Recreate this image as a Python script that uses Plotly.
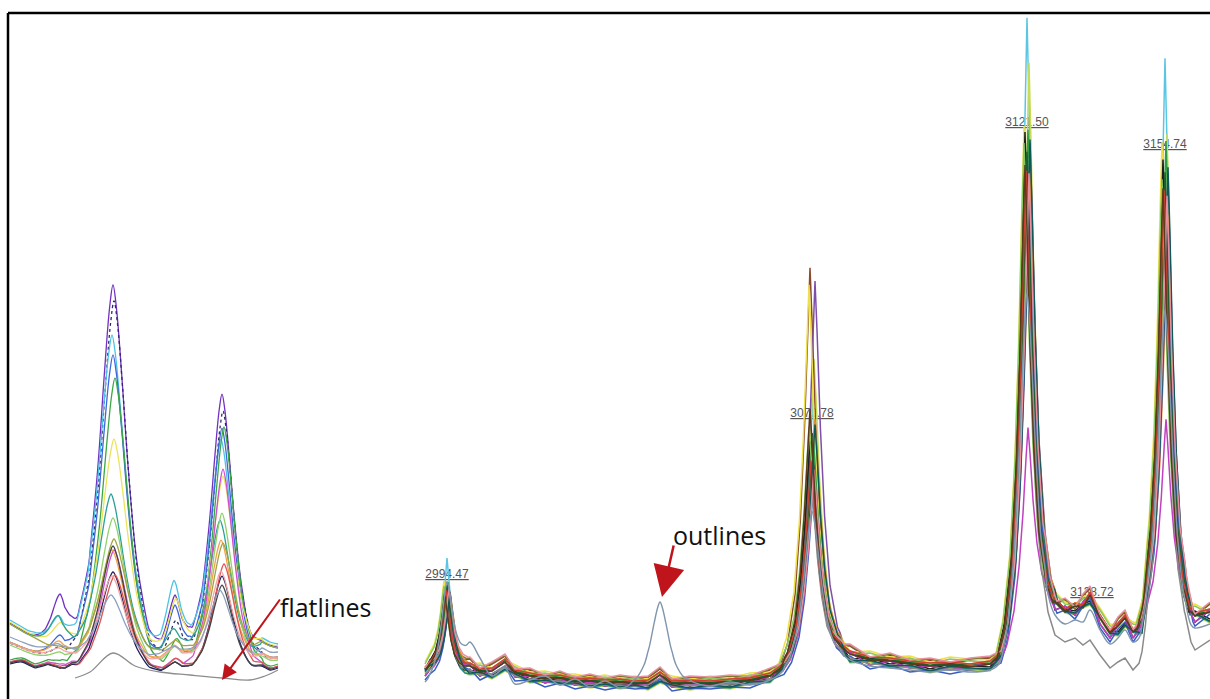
import numpy as np
import plotly.graph_objects as go

# ---------------- shared peak templates (normalised) ----------------
SHAPE_OFFSETS = [-1, -0.75, -0.5, -0.32, -0.18, -0.07, 0, 0.07, 0.18, 0.32, 0.5, 0.75, 1]
SHAPE_SHARP = [0, 0.05, 0.17, 0.36, 0.6, 0.86, 1, 0.86, 0.6, 0.36, 0.17, 0.05, 0]
SHAPE_BROAD = [0, 0.07, 0.25, 0.5, 0.76, 0.94, 1, 0.94, 0.76, 0.5, 0.25, 0.07, 0]

# ---------------- right panel: full spectra overlay ----------------
R_KNOT_X = [425, 430, 470, 480, 492, 505, 515, 530, 545, 560,
            575, 590, 605, 620, 635, 648, 660, 672, 690, 710,
            730, 750, 770, 785, 840, 850, 870, 890, 910, 930,
            950, 970, 990, 1005, 1045, 1055, 1065, 1075, 1083, 1090,
            1100, 1110, 1118, 1125, 1133, 1142, 1148, 1185, 1195, 1210]
R_BASE_A = [18, 22, 22, 16, 17, 26, 15, 12, 9, 10,
            6, 7, 5, 6, 4, 5, 13, 4, 5, 4,
            6, 7, 12, 22, 42, 34, 28, 27, 24, 22,
            23, 21, 24, 36, 82, 86, 76, 82, 80, 93,
            70, 55, 62, 70, 56, 62, 78, 82, 72, 76]
R_BASE_B = [20, 26, 18, 19, 14, 22, 17, 10, 11, 8,
            8, 5, 7, 4, 6, 3, 10, 6, 3, 6,
            4, 9, 10, 25, 46, 30, 31, 25, 26, 20,
            25, 23, 22, 40, 76, 90, 80, 78, 85, 88,
            74, 58, 57, 66, 60, 58, 82, 76, 78, 70]
R_BASE_C = [14, 20, 25, 14, 20, 28, 13, 14, 7, 11,
            5, 8, 4, 7, 5, 6, 15, 3, 6, 5,
            7, 6, 14, 20, 38, 38, 25, 29, 22, 24,
            20, 24, 26, 33, 86, 80, 84, 75, 88, 96,
            66, 52, 65, 72, 52, 65, 74, 88, 68, 80]
R_BASE_LOW = [16, 20, 20, 15, 16, 24, 14, 11, 9, 9,
              6, 6, 5, 5, 4, 5, 12, 4, 5, 4,
              6, 6, 11, 20, 40, 32, 26, 25, 22, 20,
              21, 20, 22, 32, 60, 55, 48, 52, 45, 50,
              35, 22, 28, 32, 20, 30, 60, 60, 40, 50]
R_BASES = [R_BASE_A, R_BASE_B, R_BASE_C, R_BASE_LOW]

R_PEAK_POS = [447, 812, 1027, 1165]
R_PEAK_WIDTH = [19, 30, 28, 26]
R_PEAK_LABELS = ["2994.47", "3070.78", "3121.50", "3154.74", "3138.72"]
R_LABEL_X = [447, 812, 1027, 1165, 1092]
R_LABEL_Y = [115, 276, 567, 545, 97]

R_COLORS = ['#5bc6e3', '#c6dc55', '#8b4a2b', '#7d4fa8', '#efe04a', '#20205a', '#2e9e40',
            '#1f8a8a', '#7a7a2a', '#e08a30', '#202020', '#3a5ec0', '#1e5e2e', '#88c860',
            '#c040c0', '#8a8a8a', '#d04030', '#105858', '#e890a0', '#5a3a1a']
R_H_2994 = [108, 76, 72, 70, 78, 76, 82, 78, 74, 72, 78, 68, 80, 75, 58, 63, 73, 77, 71, 70]
R_H_3070 = [258, 298, 388, 373, 363, 228, 218, 208, 198, 233, 213, 188, 203, 223, 178, 168, 193, 230, 183, 248]
R_H_3121 = [609, 569, 484, 479, 499, 469, 494, 459, 439, 449, 499, 419, 474, 484, 199, 389, 454, 489, 444, 464]
R_H_3154 = [550, 480, 440, 420, 460, 430, 465, 410, 400, 390, 450, 380, 435, 425, 190, 360, 415, 445, 405, 420]
R_VARIANT = [0, 1, 2, 0, 1, 2, 0, 1, 2, 0, 1, 2, 0, 1, 2, 3, 0, 1, 2, 0]
R_OFFSET = [2, -3, 6, 3, 8, 0, 4, -2, 7, 5, 1, -4, 3, 6, 0, 0, 5, -1, 8, 2]
R_SHIFT = [0, 2, -2, 3, -3, 0, 1, -1, 0, 3, -2, 2, 0, -3, 1, 0, -1, 3, 2, -2]

# outlier spectrum ("outlines")
OUT_COLOR = '#7f96ad'
OUT_BASE = [8, 14, 48, 32, 14, 22, 6, 10, 14, 5,
            11, 3, 9, 2, 6, 3, 4, 3, 9, 4,
            8, 5, 10, 20, 38, 30, 24, 22, 20, 18,
            20, 18, 20, 30, 70, 75, 66, 70, 68, 80,
            60, 46, 52, 60, 48, 54, 70, 70, 62, 66]
OUT_PEAK_POS = [447, 660, 812, 1027, 1165]
OUT_PEAK_H = [80, 84, 150, 345, 310]
OUT_PEAK_W = [19, 32, 30, 28, 26]

# ---------------- left panel: zoomed inset ----------------
L_KNOT_X = [10, 22, 35, 48, 60, 72, 80, 150, 160, 175, 190, 196, 252, 262, 270, 278]
L_BASE_A = [45, 40, 35, 32, 30, 28, 26, 24, 28, 32, 28, 24, 26, 34, 30, 30]
L_BASE_B = [62, 55, 48, 40, 36, 32, 30, 30, 34, 40, 34, 30, 32, 44, 40, 38]
L_BASE_C = [30, 32, 26, 28, 22, 24, 20, 20, 22, 26, 22, 20, 22, 28, 24, 26]
L_BASES = [L_BASE_A, L_BASE_B, L_BASE_C]
L_PEAK_POS = [113, 222, 60, 175]
L_PEAK_WIDTH = [48, 40, 30, 26]

L_COLORS = ['#7030c0', '#2b2b6b', '#4cc3e6', '#3f66d8', '#3aa845', '#ece35a', '#2aa198', '#8fd16a',
            '#d04fd0', '#f2a24b', '#20205e', '#e05555', '#f4a6a6', '#a3a340', '#444444', '#8da0c0']
L_H_1 = [370, 362, 317, 307, 292, 215, 162, 147, 122, 112, 102, 97, 87, 117, 127, 62]
L_H_2 = [260, 252, 212, 234, 242, 177, 135, 152, 202, 122, 97, 107, 92, 112, 87, 67]
L_H_S1 = [55, 12, 30, 22, 8, 26, 34, 8, 6, 16, 4, 4, 10, 4, 3, 8]
L_H_S2 = [50, 36, 62, 50, 26, 46, 18, 12, 8, 10, 6, 8, 10, 6, 5, 4]
L_VARIANT = [1, 0, 1, 0, 2, 1, 1, 0, 2, 0, 2, 2, 0, 1, 2, 0]
L_OFFSET = [5, 2, 8, 3, 0, 6, 4, 0, -2, 3, -4, -2, 2, 4, -3, 8]
L_SHIFT = [0, 1, -1, 0, 2, 1, -2, 0, 1, -1, 0, 2, -1, 1, 0, -2]
L_DASH = ['solid', 'dot', 'solid', 'solid', 'solid', 'solid', 'solid', 'solid',
          'solid', 'solid', 'solid', 'solid', 'solid', 'solid', 'solid', 'solid']

FLAT_X = [75, 90, 113, 135, 160, 190, 222, 250, 265, 278]
FLAT_Y = [12, 18, 37, 24, 18, 15, 12, 10, 14, 20]
FLAT_COLOR = '#8c8c8c'


def build(knot_x, knot_y, peaks, shape, offset=0):
    offs = np.array(SHAPE_OFFSETS, dtype=float)
    pts = set(float(v) for v in knot_x)
    for c, h, w in peaks:
        for o in offs:
            pts.add(c + o * w)
    xs = np.array(sorted(p for p in pts if knot_x[0] <= p <= knot_x[-1]))
    ys = np.interp(xs, knot_x, knot_y) + offset
    for c, h, w in peaks:
        ys = ys + h * np.interp(xs, c + offs * w, shape, left=0, right=0)
    return xs, ys


fig = go.Figure()

# peak labels first so spectra draw over them
fig.add_trace(go.Scatter(
    x=R_LABEL_X, y=R_LABEL_Y, mode='text',
    text=['<u>' + t + '</u>' for t in R_PEAK_LABELS],
    textfont=dict(family='Liberation Sans, Arial', size=12, color='#555555'),
    hoverinfo='skip'))

# right panel spectra
for i, col in enumerate(R_COLORS):
    heights = [R_H_2994[i], R_H_3070[i], R_H_3121[i], R_H_3154[i]]
    peaks = [(p + R_SHIFT[i], h, w) for p, h, w in zip(R_PEAK_POS, heights, R_PEAK_WIDTH)]
    xs, ys = build(R_KNOT_X, R_BASES[R_VARIANT[i]], peaks, SHAPE_SHARP, R_OFFSET[i])
    fig.add_trace(go.Scatter(x=xs, y=ys, mode='lines',
                             line=dict(color=col, width=1.5), hoverinfo='skip'))

out_peaks = [(p, h, w) for p, h, w in zip(OUT_PEAK_POS, OUT_PEAK_H, OUT_PEAK_W)]
xs, ys = build(R_KNOT_X, OUT_BASE, out_peaks, SHAPE_BROAD)
fig.add_trace(go.Scatter(x=xs, y=ys, mode='lines', line_shape='spline',
                         line=dict(color=OUT_COLOR, width=1.4), hoverinfo='skip'))

# left panel spectra
fig.add_trace(go.Scatter(x=FLAT_X, y=FLAT_Y, mode='lines', line_shape='spline',
                         line=dict(color=FLAT_COLOR, width=1.3), hoverinfo='skip'))
for i, col in enumerate(L_COLORS):
    heights = [L_H_1[i], L_H_2[i], L_H_S1[i], L_H_S2[i]]
    peaks = [(p + L_SHIFT[i], h, w) for p, h, w in zip(L_PEAK_POS, heights, L_PEAK_WIDTH)]
    xs, ys = build(L_KNOT_X, L_BASES[L_VARIANT[i]], peaks, SHAPE_BROAD, L_OFFSET[i])
    fig.add_trace(go.Scatter(x=xs, y=ys, mode='lines', line_shape='spline',
                             line=dict(color=col, width=1.3, dash=L_DASH[i]),
                             hoverinfo='skip'))

# annotations
fig.add_annotation(x=278, y=83, text='flatlines', showarrow=False, xanchor='left',
                   yanchor='middle', font=dict(family='Open Sans', size=25, color='#111111'))
fig.add_annotation(x=222, y=10, ax=281, ay=92, axref='x', ayref='y', text='',
                   showarrow=True, arrowhead=2, arrowsize=1.5, arrowwidth=2,
                   arrowcolor='#c0141c')
fig.add_annotation(x=671, y=155, text='outlines', showarrow=False, xanchor='left',
                   yanchor='middle', font=dict(family='Open Sans', size=25, color='#111111'))
fig.add_annotation(x=662, y=93, ax=674, ay=146, axref='x', ayref='y', text='',
                   showarrow=True, arrowhead=2, arrowsize=2.5, arrowwidth=2.5,
                   arrowcolor='#c0141c')

# frame
fig.add_shape(type='line', xref='paper', yref='paper', x0=8 / 1210, x1=1,
              y0=1 - 13 / 699, y1=1 - 13 / 699, line=dict(color='black', width=2.5))
fig.add_shape(type='line', xref='paper', yref='paper', x0=8 / 1210, x1=8 / 1210,
              y0=0, y1=1 - 13 / 699, line=dict(color='black', width=2.5))

fig.update_layout(
    width=1210, height=699, margin=dict(l=0, r=0, t=0, b=0),
    paper_bgcolor='white', plot_bgcolor='white', showlegend=False,
    xaxis=dict(range=[0, 1210], visible=False, fixedrange=True),
    yaxis=dict(range=[-9, 690], visible=False, fixedrange=True),
)

fig.write_html('out.html')
